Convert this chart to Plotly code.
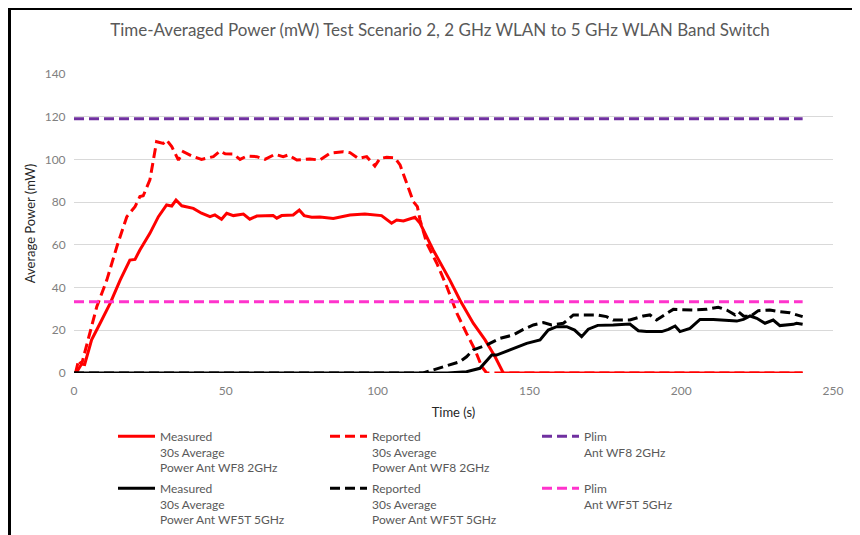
import plotly.graph_objects as go

# ---- data ----
t_meas_2g = [0.7, 2.5, 3.5, 5.8, 8.6, 11.9, 15.2, 18.4, 20.1, 21.7, 25, 27.8, 30.5, 32.2, 33.6, 35.5,
             39.3, 42, 44.8, 46.4, 48.6, 50.3, 52.5, 55.8, 57.9, 60.2, 65.6, 66.8, 68.4, 72.2, 74.2,
             75.8, 78.3, 81, 85.4, 90.9, 95.8, 101.3, 104.6, 106.3, 108.5, 112.3, 114, 118.3, 123.8,
             127.1, 131.5, 135.4, 138.7, 141.4, 240]
v_meas_2g = [0, 4.2, 4, 15.5, 23.3, 32.6, 43.5, 52.9, 53.2, 57.6, 65.4, 73.2, 78.7, 78.2, 81, 78.3,
             77.1, 74.8, 73.2, 74, 72, 74.8, 73.7, 74.4, 72, 73.5, 73.7, 72.5, 73.7, 74, 76.3,
             73.7, 72.9, 73, 72.4, 74, 74.4, 73.7, 70.1, 71.6, 71.2, 72.9, 70.1, 57.6, 43.5,
             34.2, 23.3, 15.5, 7.6, 0, 0]

t_rep_2g = [0.5, 1.5, 2.5, 7.5, 10.8, 14.1, 17.4, 20.1, 21.7, 22.8, 25, 27.2, 29.4, 30.5, 32.2, 34.4,
            36, 39.3, 42, 45.9, 48.1, 49.8, 52.5, 54.7, 56.9, 60.2, 62.9, 66.2, 68.9, 70.6, 73.4,
            77.7, 81, 84.3, 88.7, 90.9, 93.6, 96.4, 99.1, 100.8, 103, 105.7, 107.4, 109.6, 111.8,
            113.1, 114, 116.2, 119.5, 122.8, 126.1, 129.3, 132.1, 134.3, 135.9, 240]
v_rep_2g = [0, 6, 4, 31, 43.5, 59.1, 73.2, 77.9, 82.6, 83, 90.4, 108.3, 107.5, 109.1, 106, 99.7,
            103.6, 101.3, 100, 101.3, 103.9, 102.6, 102.5, 100, 101.6, 101.3, 100, 102.4, 101.3, 102.1, 99.7,
            100.2, 99.7, 102.9, 103.6, 103.2, 100.5, 101.3, 96.9, 100.5, 101, 100.8, 97.4, 88.8, 80.2,
            77.9, 71.6, 60.7, 51.4, 40.4, 28, 18.6, 10.8, 3, 0, 0]

t_plim_2g = [0, 240]
v_plim_2g = [119, 119]

t_meas_5g = [0, 123, 129.3, 133.7, 137.6, 139.2, 143.6, 149.1, 153.5, 156.2, 159, 162.3, 164.9, 167.2,
             169.4, 172.5, 177.6, 183.1, 185.9, 188.6, 193.6, 195.8, 198, 199.6, 202.9, 206.2, 210.6,
             215, 218.3, 220.5, 222.7, 224.9, 227.6, 230.3, 232.5, 236.9, 238, 240]
v_meas_5g = [0, 0, 0.6, 2.2, 8.4, 8.4, 10.8, 13.9, 15.5, 20.1, 21.7, 21.7, 20.1, 17,
             20.5, 22.3, 22.5, 22.9, 19.8, 19.4, 19.4, 20.4, 22, 19.4, 20.9, 25.1, 25.1,
             24.8, 24.3, 25.1, 26.7, 25.6, 23.3, 24.8, 22.2, 22.8, 23.3, 22.8]

t_rep_5g = [0, 115, 117.3, 121.6, 127.1, 129.3, 131.5, 135.9, 140.3, 144.7, 148, 151.3, 154.6, 157.3,
            161.2, 164.5, 168.9, 172.2, 175.4, 177.6, 183.1, 187.5, 189.7, 191.9, 195.2, 197.4, 204,
            208.4, 212.2, 215, 217.7, 218.8, 220.5, 222.7, 225.4, 229.2, 232.5, 235.8, 240]
v_rep_5g = [0, 0, 1, 3, 5.3, 7.6, 10.8, 13.1, 16.2, 17.8, 20.4, 22.5, 23.6, 22.5,
            23.3, 27.2, 27.2, 27.2, 26.4, 24.8, 24.8, 26.7, 27.2, 24.8, 27.9, 29.8, 29.5,
            29.8, 30.8, 29.5, 27.2, 28.7, 26.7, 26.4, 29.2, 29.5, 28.7, 28.2, 26.4]

t_plim_5g = [0, 240]
v_plim_5g = [33.4, 33.4]

names = [
    "Measured<br>30s Average<br>Power Ant WF8 2GHz",
    "Reported<br>30s Average<br>Power Ant WF8 2GHz",
    "Plim<br>Ant WF8 2GHz",
    "Measured<br>30s Average<br>Power Ant WF5T 5GHz",
    "Reported<br>30s Average<br>Power Ant WF5T 5GHz",
    "Plim<br>Ant WF5T 5GHz",
]
x_ticks = [0, 50, 100, 150, 200, 250]
y_ticks = [0, 20, 40, 60, 80, 100, 120, 140]

DASH = "10px,5px"
series = [
    (t_meas_2g, v_meas_2g, names[0], "#FF0000", "solid", 3, "legend"),
    (t_rep_2g, v_rep_2g, names[1], "#FF0000", DASH, 3, "legend"),
    (t_plim_2g, v_plim_2g, names[2], "#7030A0", DASH, 3, "legend"),
    (t_meas_5g, v_meas_5g, names[3], "#000000", "solid", 3, "legend2"),
    (t_rep_5g, v_rep_5g, names[4], "#000000", DASH, 3, "legend2"),
    (t_plim_5g, v_plim_5g, names[5], "#FF33CC", DASH, 3, "legend2"),
]

fig = go.Figure()
for x, y, n, c, d, w, lg in series:
    fig.add_trace(go.Scatter(x=x, y=y, name=n, mode="lines", legend=lg,
                             line=dict(color=c, dash=d, width=w)))

# The page puts the figure 8px from the top-left corner, so the figure is 852x527.
W, H = 852, 527
L, R, T, B = 66, 27, 66, 162
PW, PH = W - L - R, H - T - B

FONT = "Lato"
legend_common = dict(orientation="h", xref="container", yref="container",
                     x=105 / W, xanchor="left", yanchor="top",
                     itemwidth=37, entrywidth=160, entrywidthmode="pixels", valign="top",
                     font=dict(family=FONT, size=12, color="#595959"), bgcolor="rgba(0,0,0,0)")

fig.update_layout(
    width=W, height=H,
    paper_bgcolor="white", plot_bgcolor="white",
    margin=dict(l=L, r=R, t=T, b=B),
    font=dict(family=FONT, color="#595959", size=12),
    title=dict(text="Time-Averaged Power (mW) Test Scenario 2, 2 GHz WLAN to 5 GHz WLAN Band Switch",
               x=432 / W, xanchor="center", y=1 - 22 / H, yanchor="middle",
               font=dict(family=FONT, size=17, color="#595959")),
    xaxis=dict(range=[0, 250], tickvals=x_ticks, showgrid=False, zeroline=False, automargin=False,
               showline=False, ticks="outside", ticklen=7, tickcolor="rgba(0,0,0,0)",
               tickfont=dict(size=12, color="#808080"),
               title=dict(text="Time (s)", font=dict(size=13, color="#262626"), standoff=10)),
    yaxis=dict(range=[0, 140], tickvals=y_ticks, showgrid=True, gridcolor="#d9d9d9", gridwidth=1,
               zeroline=False, showline=False, automargin=False,
               ticks="outside", ticklen=5, tickcolor="rgba(0,0,0,0)",
               tickfont=dict(size=12, color="#808080"),
               title=dict(text="Average Power (mW)", font=dict(size=13, color="#262626"), standoff=6)),
    legend=dict(**legend_common, y=1 - 414 / H),
    legend2=dict(**legend_common, y=1 - 466 / H),
    showlegend=True,
)

# frame edges of the original screenshot (left and top)
fig.add_shape(type="line", xref="paper", yref="paper",
              x0=(1.5 - L) / PW, x1=(1.5 - L) / PW, y0=(T + PH - 540) / PH, y1=(T + PH + 1) / PH,
              line=dict(color="black", width=3))
fig.add_shape(type="line", xref="paper", yref="paper",
              x0=(0 - L) / PW, x1=(860 - L) / PW, y0=(T + PH - 0.5) / PH, y1=(T + PH - 0.5) / PH,
              line=dict(color="black", width=3))

fig.write_html("out.html")
